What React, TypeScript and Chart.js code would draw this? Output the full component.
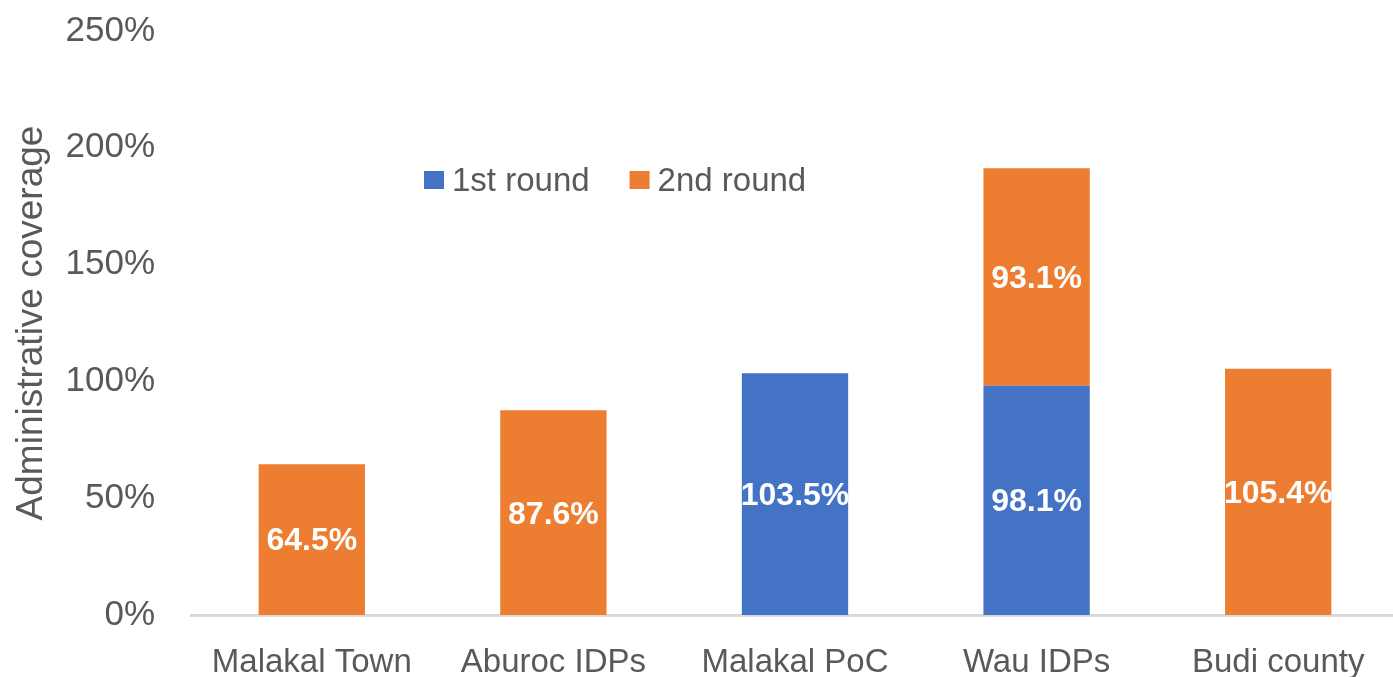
import React, { useEffect, useRef } from "react";
import { Chart, registerables } from "chart.js";

Chart.register(...registerables);

const categories = ["Malakal Town", "Aburoc IDPs", "Malakal PoC", "Wau IDPs", "Budi county"];
const round1: (number | null)[] = [null, null, 103.5, 98.1, null];
const round2: (number | null)[] = [64.5, 87.6, null, 93.1, 105.4];
const seriesNames = ["1st round", "2nd round"];
const seriesColors = ["#4472C4", "#ED7D31"];
const yMin = 0;
const yMax = 250;
const yStep = 50;
const yTitle = "Administrative coverage";

const FONT = "'Liberation Sans', Arial, sans-serif";
const TEXT = "#595959";

const dataLabelPlugin = {
  id: "dataLabels",
  afterDatasetsDraw(chart: any) {
    const ctx = chart.ctx;
    ctx.save();
    ctx.fillStyle = "#FFFFFF";
    ctx.font = `bold 32px ${FONT}`;
    ctx.textAlign = "center";
    ctx.textBaseline = "middle";
    chart.data.datasets.forEach((ds: any, di: number) => {
      const meta = chart.getDatasetMeta(di);
      meta.data.forEach((el: any, i: number) => {
        const v = ds.data[i];
        if (v === null || v === undefined) return;
        const y = (el.y + el.base) / 2;
        ctx.fillText(v.toFixed(1) + "%", el.x, y + 2);
      });
    });
    ctx.restore();
  },
};

const legendPlugin = {
  id: "innerLegend",
  afterDraw(chart: any) {
    const ctx = chart.ctx;
    const area = chart.chartArea;
    ctx.save();
    ctx.font = `33px ${FONT}`;
    ctx.textBaseline = "middle";
    ctx.textAlign = "left";
    let x = area.left + 233;
    const y = area.top + 151;
    chart.data.datasets.forEach((ds: any) => {
      ctx.fillStyle = ds.backgroundColor;
      ctx.fillRect(x, y - 11, 20, 18);
      ctx.fillStyle = TEXT;
      ctx.fillText(ds.label, x + 28, y);
      x += 28 + ctx.measureText(ds.label).width + 40;
    });
    ctx.restore();
  },
};

export default function App() {
  const ref = useRef<HTMLCanvasElement>(null);

  useEffect(() => {
    if (!ref.current) return;
    Chart.defaults.font.family = FONT;
    const chart = new Chart(ref.current, {
      type: "bar",
      data: {
        labels: categories,
        datasets: [
          { label: seriesNames[0], data: round1, backgroundColor: seriesColors[0] },
          { label: seriesNames[1], data: round2, backgroundColor: seriesColors[1] },
        ],
      },
      options: {
        responsive: false,
        animation: false,
        layout: { padding: { top: 31, left: 0, right: 0, bottom: 0 } },
        datasets: { bar: { categoryPercentage: 0.44, barPercentage: 1 } },
        plugins: {
          legend: { display: false },
          tooltip: { enabled: false },
        },
        scales: {
          x: {
            stacked: true,
            grid: { display: false, drawTicks: false },
            border: { display: true, color: "#D9D9D9", width: 3 },
            ticks: {
              color: TEXT,
              font: { size: 33, lineHeight: 1 },
              padding: 31,
              maxRotation: 0,
              autoSkip: false,
            },
            afterFit: (scale: any) => {
              scale.height = 62;
            },
          },
          y: {
            stacked: true,
            min: yMin,
            max: yMax,
            grid: { display: false, drawTicks: false },
            border: { display: false },
            ticks: {
              stepSize: yStep,
              color: TEXT,
              font: { size: 35, lineHeight: 1 },
              padding: 36,
              callback: (v: any) => `${v}%`,
            },
            title: {
              display: true,
              text: yTitle,
              color: TEXT,
              font: { size: 37, lineHeight: 1 },
              padding: { top: 13, bottom: 0 },
            },
            afterFit: (scale: any) => {
              scale.width = 191;
              scale.paddingTop = 0;
              scale.paddingBottom = 0;
            },
          },
        },
      },
      plugins: [dataLabelPlugin, legendPlugin],
    });
    return () => chart.destroy();
  }, []);

  return (
    <div style={{ position: "absolute", left: 0, top: 0, width: 1393, height: 677, overflow: "hidden", background: "#fff" }}>
      <canvas ref={ref} width={1399} height={677} style={{ display: "block" }} />
    </div>
  );
}
